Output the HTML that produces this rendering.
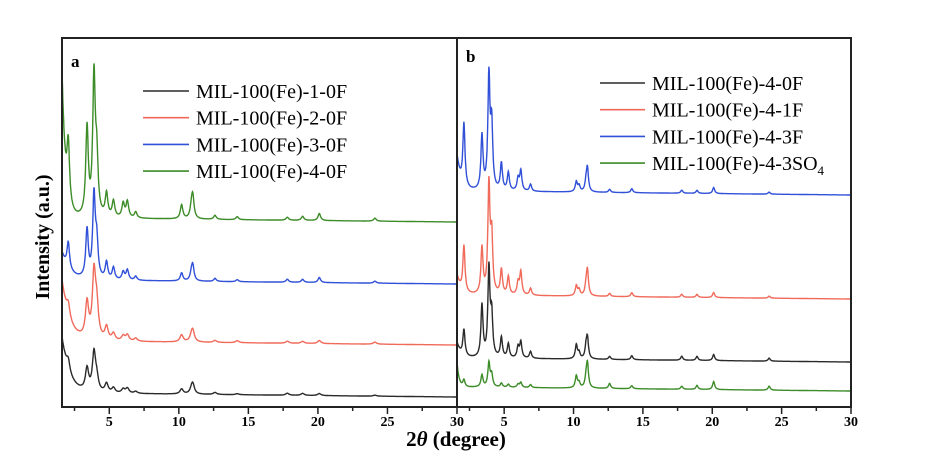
<!DOCTYPE html>
<html><head><meta charset="utf-8"><style>
body{margin:0;background:#fff;}
svg{display:block;font-family:"Liberation Serif",serif;}
</style></head><body>
<svg id="chart" width="926" height="468" viewBox="0 0 926 468" xmlns="http://www.w3.org/2000/svg">
<rect width="926" height="468" fill="#fff"/>
<g id="plots"></g>
<rect x="62" y="38" width="395" height="369" fill="none" stroke="#222" stroke-width="2"/>
<rect x="457" y="38" width="394" height="369" fill="none" stroke="#222" stroke-width="2"/>
<text x="71" y="67" font-size="17" font-weight="bold">a</text>
<text x="466" y="62" font-size="17" font-weight="bold">b</text>
<text transform="translate(49,237) rotate(-90)" text-anchor="middle" font-size="20" font-weight="bold">Intensity (a.u.)</text>
<text x="456" y="446" text-anchor="middle" font-size="21" font-weight="bold">2<tspan font-style="italic">θ</tspan> (degree)</text>
<g id="ticks"></g>
<g id="legends" font-size="20"></g>
</svg>
<script>
const xMin = 1.6, xMax = 30;
const tickValues = [5, 10, 15, 20, 25, 30];
const tickLabels = ["5", "10", "15", "20", "25", "30"];
const peaksA = [2.05,3.4,3.9,4.1,4.8,5.3,6.0,6.3,6.9,10.2,10.9,11.0,12.6,14.2,17.8,18.9,20.1,24.1];
const peaksB = [2.1,3.4,3.9,4.1,4.8,5.3,6.0,6.2,6.9,10.2,10.4,10.9,11.0,12.6,14.2,17.8,18.9,20.1,24.1];
const namesA = ["MIL-100(Fe)-1-0F","MIL-100(Fe)-2-0F","MIL-100(Fe)-3-0F","MIL-100(Fe)-4-0F"];
const namesB = ["MIL-100(Fe)-4-0F","MIL-100(Fe)-4-1F","MIL-100(Fe)-4-3F","MIL-100(Fe)-4-3SO4"];
const colors = ["#2a2a2a","#f06a5a","#3050d8","#3c8c28"];
const offsetA = [10, 62, 123, 185];
const offsetB = [45, 108, 212, 16];
const lowA = [55, 60, 27, 145];
const lowB = [15, 20, 35, 25];
const heightsA1 = [11,22,38,12,9,5,4,5,2,5,3,10,2,1,2,2,2,1];
const heightsA2 = [13,35,64,30,13,7,5,6,3,7,4,11,2,2,2,2,3,2];
const heightsA3 = [26,48,82,34,17,12,8,10,4,8,6,15,3,2,3,3,5,2];
const heightsA4 = [58,88,138,52,23,16,14,16,6,14,9,22,4,3,3,4,7,3];
const heightsB1 = [26,52,88,40,20,14,11,16,7,14,6,10,20,3,4,4,4,6,3];
const heightsB2 = [46,46,108,55,25,18,12,23,7,10,6,8,25,3,4,3,3,5,2];
const heightsB3 = [62,54,112,62,27,18,12,20,7,10,6,8,23,3,4,3,3,6,2];
const heightsB4 = [7,12,24,12,4,3,3,5,3,12,5,8,24,5,3,3,4,8,4];

const NS = "http://www.w3.org/2000/svg";
const bottom = 407;
function xScale(panel, v){ const l = panel===0?62:457, r = panel===0?457:851; return l + (v - xMin)/(xMax - xMin)*(r - l); }
function yScale(v){ return bottom - v; }

function curve(x, peaks, heights, off, low, decay, gamma){
  let y = off + 4*(30 - x)/28 + low*Math.exp(-(x - xMin)/decay);
  for (let i=0;i<peaks.length;i++){ const d=x-peaks[i]; y += heights[i]*gamma*gamma/(d*d+gamma*gamma); }
  return y;
}
const plots = document.getElementById('plots');
function drawSeries(panel, peaks, heights, off, low, decay, gamma, color, name){
  let d = "";
  for (let x=xMin; x<=xMax+1e-9; x+=0.02){
    const v = curve(x, peaks, heights, off, low, decay, gamma);
    d += (d?"L":"M") + xScale(panel,x).toFixed(1) + "," + Math.max(40,yScale(v)).toFixed(1);
  }
  const p = document.createElementNS(NS,'path');
  p.setAttribute('d', d); p.setAttribute('fill','none'); p.setAttribute('stroke', color); p.setAttribute('stroke-width','1.4');
  
  
  plots.appendChild(p);
}
const hA = [heightsA1, heightsA2, heightsA3, heightsA4];
const hB = [heightsB1, heightsB2, heightsB3, heightsB4];
for (let i=0;i<4;i++){
  drawSeries(0, peaksA, hA[i], offsetA[i], lowA[i], i===3?0.25:0.55, i<2?0.14:0.11, colors[i], 'panel-a-series-'+(i+1));
  drawSeries(1, peaksB, hB[i], offsetB[i], lowB[i], i===3?0.15:0.3, 0.09, colors[i], 'panel-b-series-'+(i+1));
}
const ticks = document.getElementById('ticks');
for (let panel=0; panel<2; panel++){
  for (let v=2.5; v<=30; v+=2.5){
    const x = xScale(panel, v), major = v%5===0;
    const t = document.createElementNS(NS,'line');
    t.setAttribute('x1',x); t.setAttribute('x2',x); t.setAttribute('y1',bottom); t.setAttribute('y2',bottom+(major?7:4));
    t.setAttribute('stroke','#222'); t.setAttribute('stroke-width','1.5');
    
    
    ticks.appendChild(t);
  }
  tickValues.forEach((v,i)=>{
    const t = document.createElementNS(NS,'text');
    t.setAttribute('x', xScale(panel,v)); t.setAttribute('y', 426);
    t.setAttribute('text-anchor','middle'); t.setAttribute('font-size','14'); t.setAttribute('font-weight','bold');
    t.textContent = tickLabels[i];
    
    
    ticks.appendChild(t);
  });
}
const legends = document.getElementById('legends');
function legend(names, lx1, lx2, tx, y0, dy, order, panelName){
  order.forEach((ci, row)=>{
    const y = y0 + row*dy;
    const g = document.createElementNS(NS,'g');
    
    
    const l = document.createElementNS(NS,'line');
    l.setAttribute('x1',lx1); l.setAttribute('x2',lx2); l.setAttribute('y1',y); l.setAttribute('y2',y);
    l.setAttribute('stroke',colors[ci]); l.setAttribute('stroke-width','1.6');
    g.appendChild(l);
    const t = document.createElementNS(NS,'text');
    t.setAttribute('x',tx); t.setAttribute('y',y+7);
    const nm = names[ci];
    if (nm.endsWith('SO4')){ t.textContent = nm.slice(0,-1); const s=document.createElementNS(NS,'tspan'); s.setAttribute('font-size','13'); s.setAttribute('dy','5'); s.textContent='4'; t.appendChild(s); }
    else t.textContent = nm;
    g.appendChild(t);
    legends.appendChild(g);
  });
}
legend(namesA, 143, 189, 196, 91, 26.7, [0,1,2,3], 'panel-a');
legend(namesB, 600, 645, 652, 83, 26.7, [0,1,2,3], 'panel-b');
</script>
</body></html>
